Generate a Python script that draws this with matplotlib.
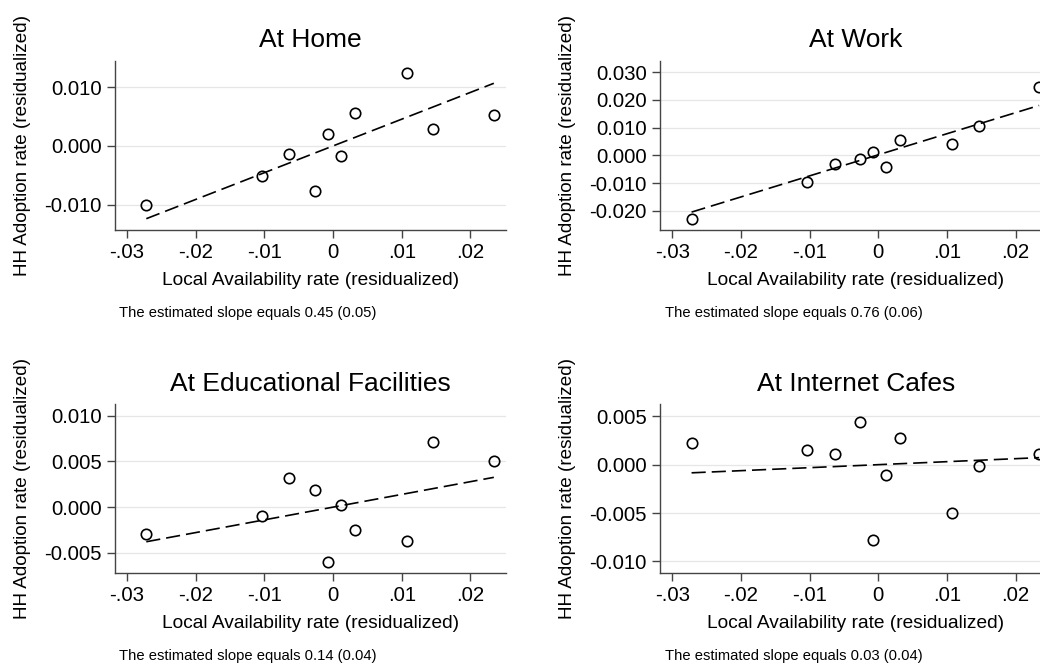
import numpy as np
import matplotlib
matplotlib.use("Agg")
import matplotlib.pyplot as plt

plt.rcParams['font.family'] = ['Liberation Sans', 'DejaVu Sans']

# binned residualized local availability (shared by all panels)
x_bins = [-0.0272, -0.01035, -0.00636, -0.00262, -0.00073, 0.00117, 0.0032, 0.0107, 0.01463, 0.02342]

home_y = [-0.01008, -0.0051, -0.00142, -0.00765, 0.00204, -0.0017, 0.0056, 0.01246, 0.00295, 0.00521]
work_y = [-0.02284, -0.00962, -0.00325, -0.0012, 0.0012, -0.00433, 0.00553, 0.00409, 0.01058, 0.02476]
edu_y = [-0.00289, -0.00099, 0.00322, 0.00183, -0.00596, 0.00018, -0.00245, -0.00373, 0.00713, 0.00501]
cafe_y = [0.00219, 0.00154, 0.00113, 0.00438, -0.00774, -0.0011, 0.00274, -0.00503, -0.00014, 0.0011]

titles = ["At Home", "At Work", "At Educational Facilities", "At Internet Cafes"]
fit_slopes = [0.455, 0.759, 0.139, 0.031]
fit_intercepts = [0.0, 0.0002, 0.0, 0.0]
slope_notes = ["0.45 (0.05)", "0.76 (0.06)", "0.14 (0.04)", "0.03 (0.04)"]

x_ticks = [-0.03, -0.02, -0.01, 0.0, 0.01, 0.02]
x_ticklabels = ["-.03", "-.02", "-.01", "0", ".01", ".02"]

y_ticks = [
    [-0.010, 0.0, 0.010],
    [-0.020, -0.010, 0.0, 0.010, 0.020, 0.030],
    [-0.005, 0.0, 0.005, 0.010],
    [-0.010, -0.005, 0.0, 0.005],
]
y_limits = [(-0.0143, 0.0145), (-0.0269, 0.0341), (-0.0072, 0.0113), (-0.0112, 0.0063)]

fig = plt.figure(figsize=(10.4, 6.64), dpi=100)

# axes boxes in figure fractions: [left, bottom, width, height]
boxes = [
    [0.1103, 0.6536, 0.3763, 0.255],
    [0.6346, 0.6536, 0.3763, 0.255],
    [0.1103, 0.137, 0.3763, 0.255],
    [0.6346, 0.137, 0.3763, 0.255],
]
series = [home_y, work_y, edu_y, cafe_y]

for i in range(4):
    ax = fig.add_axes(boxes[i])
    xs = np.array(x_bins)
    ax.plot(xs, series[i], ls='none', marker='o', ms=7.5, mfc='none', mec='black', mew=1.2, zorder=3)

    xx = np.array([min(x_bins), max(x_bins)])
    ax.plot(xx, fit_intercepts[i] + fit_slopes[i] * xx, color='black', lw=1.2, dashes=(8.5, 3.6), zorder=2)

    ax.set_xlim(-0.0318, 0.0252)
    ax.set_ylim(*y_limits[i])
    ax.set_xticks(x_ticks)
    ax.set_xticklabels(x_ticklabels)
    ax.set_yticks(y_ticks[i])
    ax.set_yticklabels(["%.3f" % v for v in y_ticks[i]])

    ax.grid(axis='y', color='#e6e6e6', lw=0.9)
    ax.set_axisbelow(True)
    for s in ['top', 'right']:
        ax.spines[s].set_visible(False)
    for s in ['left', 'bottom']:
        ax.spines[s].set_color('#444444')
        ax.spines[s].set_linewidth(1.0)
    ax.tick_params(axis='both', labelsize=14.7, length=5.5, width=1.0, color='#444444', pad=4)

    ax.set_title(titles[i], fontsize=19, pad=9.5)
    ax.set_xlabel("Local Availability rate (residualized)", fontsize=13.8, labelpad=7)
    ax.set_ylabel("HH Adoption rate (residualized)", fontsize=13.6)
    ax.yaxis.set_label_coords(-0.214, 0.5)

    ax.text(0.012, -0.512, "The estimated slope equals " + slope_notes[i],
            transform=ax.transAxes, fontsize=10.6, va='baseline', ha='left')

fig.savefig("out.png", dpi=100)
